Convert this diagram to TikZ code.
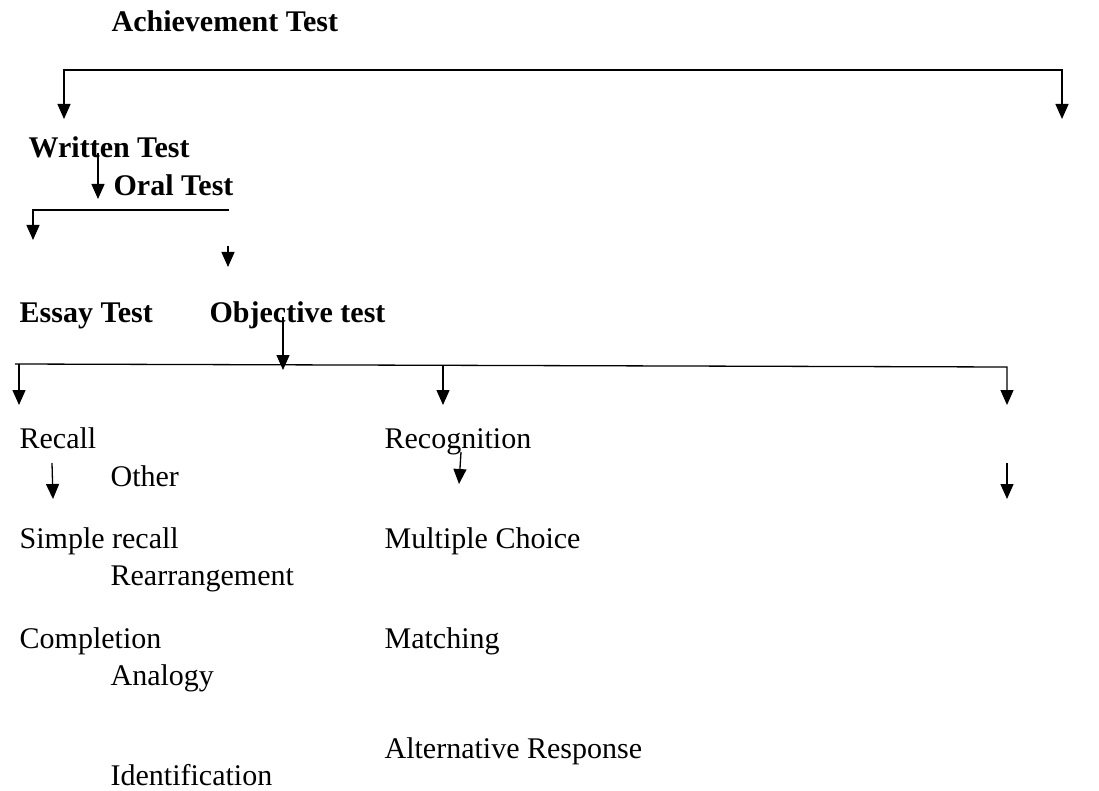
\documentclass[tikz,border=0pt]{standalone}
\usepackage{fontspec}
\setmainfont{Liberation Serif}
\usetikzlibrary{arrows.meta}
\begin{document}
\begin{tikzpicture}[x=1pt, y=-1pt, >={Triangle[width=13pt,length=15pt]}, line width=1.3pt,
  font=\fontsize{30}{36}\selectfont,
  lbl/.style={anchor=base west, inner sep=0pt},
  hd/.style={lbl, font=\fontsize{30}{36}\selectfont\bfseries}]
\useasboundingbox (0,0) rectangle (1099,791);

% headings
\node[hd] (ach) at (111,32) {Achievement Test};
\node[hd] (writ) at (28,158) {Written Test};
\node[hd] (oral) at (113,196) {Oral Test};
\node[hd] (essay) at (19,323) {Essay Test};
\node[hd] (obj) at (209,323) {Objective test};

% item types
\node[lbl] (rec) at (19,448) {Recall};
\node[lbl] (oth) at (110,486) {Other};
\node[lbl] (simp) at (19,548) {Simple recall};
\node[lbl] (rearr) at (110,585) {Rearrangement};
\node[lbl] (compl) at (19,648) {Completion};
\node[lbl] (anal) at (110,685) {Analogy};
\node[lbl] (ident) at (110,785) {Identification};
\node[lbl] (recog) at (384,448) {Recognition};
\node[lbl] (mult) at (384,548) {Multiple Choice};
\node[lbl] (match) at (384,648) {Matching};
\node[lbl] (alt) at (384,758) {Alternative Response};

% arrow end points
\coordinate (top1) at (64,119);   \coordinate (top2) at (64,70);
\coordinate (top3) at (1062,70);  \coordinate (top4) at (1062,119);
\coordinate (wr1) at (98,153);    \coordinate (wr2) at (98,199);
\coordinate (mid1) at (229,210);  \coordinate (mid2) at (33,210);
\coordinate (mid3) at (33,240);
\coordinate (lone1) at (228,246); \coordinate (lone2) at (228,267);
\coordinate (ob1) at (283,317);   \coordinate (ob2) at (283,370);
\coordinate (bl) at (15,364);     \coordinate (br) at (1007,367);
\coordinate (br2) at (1007,405);
\coordinate (b1) at (19,364);     \coordinate (b1e) at (19,405);
\coordinate (b2) at (443,366);    \coordinate (b2e) at (443,405);
\coordinate (rc1) at (52,463);    \coordinate (rc2) at (53,499);
\coordinate (rg1) at (461,452);   \coordinate (rg2) at (459,484);
\coordinate (rt1) at (1007,463);  \coordinate (rt2) at (1007,499);

\draw[<->] (top1) -- (top2) -- (top3) -- (top4);
\draw[->] (wr1) -- (wr2);
\draw[->] (mid1) -- (mid2) -- (mid3);
\draw[->] (lone1) -- (lone2);
\draw[->] (ob1) -- (ob2);
\draw[->] (bl) -- (br) -- (br2);
\draw[->] (b1) -- (b1e);
\draw[->] (b2) -- (b2e);
\draw[->] (rc1) -- (rc2);
\draw[->] (rg1) -- (rg2);
\draw[->] (rt1) -- (rt2);
\end{tikzpicture}
\end{document}
